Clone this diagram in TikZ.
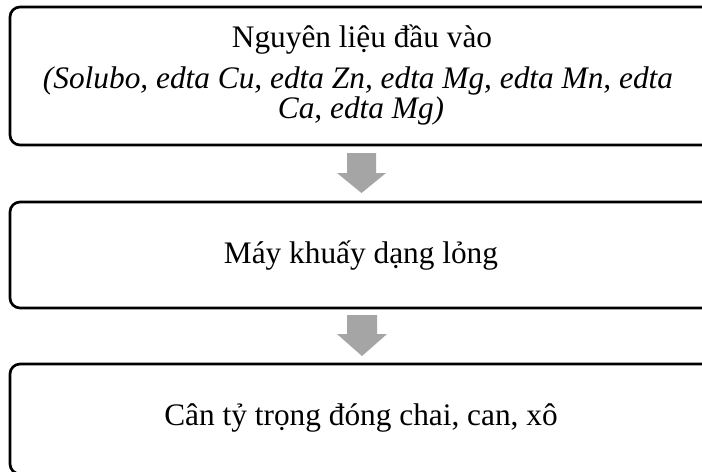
\documentclass[tikz,border=0pt]{standalone}
\usepackage{fontspec}
\setmainfont{Liberation Serif}
\definecolor{arrowgray}{HTML}{A5A5A5}
\begin{document}
\begin{tikzpicture}[x=0.75pt,y=-0.75pt,
  box/.style={draw=black, line width=2pt, rounded corners=7.5pt, inner sep=0pt, outer sep=0pt, minimum width=526.5pt},
  txt/.style={anchor=base, inner sep=0pt, font=\fontsize{23.5}{28}\selectfont},
  blockarrow/.style={fill=arrowgray, draw=none}]
\useasboundingbox (0,0) rectangle (702,471);
\clip (0,0) rectangle (702,471);
\fill[white] (0,0) rectangle (702,471);
% boxes
\node[box, minimum height=103.5pt] (b1) at (361,76) {};
\node[box, minimum height=79.5pt] (b2) at (361,255) {};
\node[box, minimum height=82.5pt] (b3) at (361,419) {};
% texts
\node[txt] (t1) at (362,47) {Nguyên liệu đầu vào};
\node[txt] (t2) at (358,88) {\itshape (Solubo, edta Cu, edta Zn, edta Mg, edta Mn, edta};
\node[txt] (t3) at (361,118) {\itshape Ca, edta Mg)};
\node[txt] (t4) at (361,263) {Máy khuấy dạng lỏng};
\node[txt] (t5) at (361,425) {Cân tỷ trọng đóng chai, can, xô};
% arrows
\fill[blockarrow] (347,153) -- (376,153) -- (376,173) -- (386,173) -- (361.5,193) -- (337,173) -- (347,173) -- cycle;
\fill[blockarrow] (347,315) -- (377,315) -- (377,334) -- (387,334) -- (362,356) -- (337,334) -- (347,334) -- cycle;
\end{tikzpicture}
\end{document}
